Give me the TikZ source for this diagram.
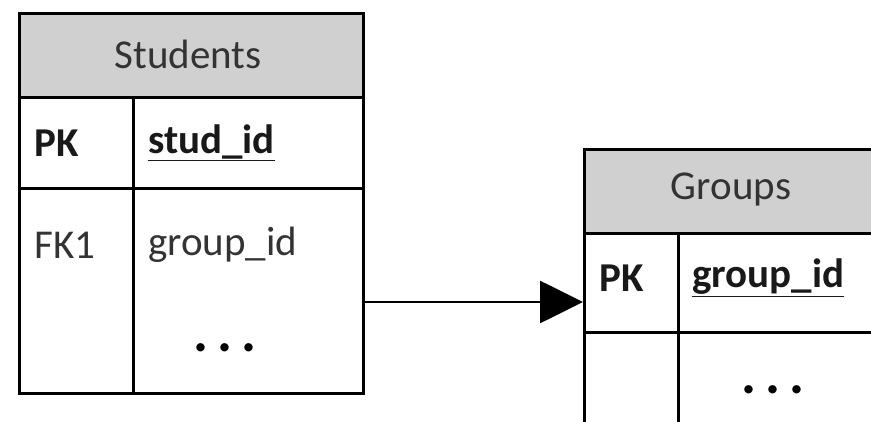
\documentclass[tikz,border=0pt]{standalone}
\usepackage{fontspec}
\setmainfont{Carlito}
\usetikzlibrary{arrows.meta}
\definecolor{hdrgray}{HTML}{D0D0D0}
\definecolor{txt}{HTML}{333333}
\tikzset{
  cell/.style={draw=black, line width=2.6pt, inner sep=0pt, anchor=north west, fill=white},
  hdr/.style={cell, fill=hdrgray},
  lbl/.style={inner sep=0pt, text=txt, font=\fontsize{41}{48}\selectfont},
  blbl/.style={lbl, text=black!90, font=\fontsize{41}{48}\selectfont\bfseries},
  dots/.style={inner sep=0pt, text=black, font=\fontsize{56}{60}\selectfont\bfseries},
  conn/.style={line width=2.8pt, -{Triangle[length=43pt,width=42pt]}}
}
\newcommand{\ul}[1]{\underline{#1}}
\begin{document}
\begin{tikzpicture}[x=1pt,y=-1pt]
\useasboundingbox (0,0) rectangle (871,422);
% Students table
\node[hdr, minimum width=344pt, minimum height=84pt] (sh) at (18,12) {};
\node[cell, minimum width=114pt, minimum height=91pt] (spk) at (18,96) {};
\node[cell, minimum width=230pt, minimum height=91pt] (spkn) at (132,96) {};
\node[cell, minimum width=114pt, minimum height=205pt] (sfk) at (18,187) {};
\node[cell, minimum width=230pt, minimum height=205pt] (sfkn) at (132,187) {};
\node[lbl] (tst) at (188,54) {Students};
\node[blbl, anchor=west] (tpk1) at (34,143) {PK};
\node[blbl, anchor=west] (tsid) at (148,143) {\ul{stud\_id}};
\node[lbl, anchor=west] (tfk) at (34,245) {FK1};
\node[lbl, anchor=west] (tgid) at (148,245) {group\_id};
\node[dots, anchor=base] (sd) at (225,352) {.\,.\,.};
% Groups table
\node[hdr, minimum width=300pt, minimum height=84pt] (gh) at (583,148) {};
\node[cell, minimum width=94pt, minimum height=99pt] (gpk) at (583,232) {};
\node[cell, minimum width=206pt, minimum height=99pt] (gpkn) at (677,232) {};
\node[cell, minimum width=94pt, minimum height=120pt] (gr) at (583,331) {};
\node[cell, minimum width=206pt, minimum height=120pt] (grn) at (677,331) {};
\node[lbl] (tgr) at (731,190) {Groups};
\node[blbl, anchor=west] (tpk2) at (599,278) {PK};
\node[blbl, anchor=west] (tgid2) at (692,278) {\ul{group\_id}};
\node[dots, anchor=base] (gd) at (773,393) {.\,.\,.};
% connector
\coordinate (a1) at (sfkn.east |- 0,302);
\coordinate (a2) at (gpk.west |- 0,302);
\draw[conn] (a1) -- (a2);
\end{tikzpicture}
\end{document}
